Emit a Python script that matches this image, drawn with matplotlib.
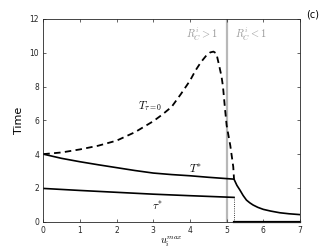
import matplotlib
matplotlib.use("Agg")
import matplotlib.pyplot as plt

plt.rcParams['mathtext.fontset'] = 'cm'

# T_{tau=0} (dashed)
x_dash = [0, 0.5, 1, 1.5, 2, 2.5, 3, 3.25, 3.5, 3.75, 4, 4.15, 4.3, 4.45, 4.55, 4.64, 4.72,
          4.8, 4.86, 4.9, 4.95, 5.0, 5.1, 5.18, 5.2]
y_dash = [4.0, 4.1, 4.28, 4.5, 4.8, 5.3, 5.95, 6.35, 6.8, 7.55, 8.35, 8.95, 9.45, 9.85, 10.02,
          10.07, 9.96, 9.2, 8.6, 8.0, 6.8, 5.7, 4.5, 3.25, 2.55]

# T* (solid)
x_tstar = [0, 0.5, 1, 1.5, 2, 2.5, 3, 3.5, 4, 4.5, 5.2]
y_tstar = [4.0, 3.75, 3.55, 3.37, 3.2, 3.03, 2.88, 2.79, 2.72, 2.63, 2.52]
x_tstar2 = [5.2, 5.28, 5.36, 5.45, 5.54, 5.63, 5.72, 5.85, 6.0, 6.2, 6.45, 6.7, 7.0]
y_tstar2 = [2.52, 2.15, 1.88, 1.55, 1.28, 1.12, 0.99, 0.85, 0.73, 0.63, 0.53, 0.47, 0.42]

# tau*
x_tau = [0, 1, 2, 3, 4, 5.2]
y_tau = [1.97, 1.85, 1.74, 1.63, 1.54, 1.44]
x_tau0 = [5.2, 7.0]
y_tau0 = [0, 0]

x_switch = 5.0
x_cut = 5.2

fig = plt.figure(figsize=(3.32, 2.49), dpi=100)
ax = fig.add_axes([0.1304, 0.1096, 0.7732, 0.8141])

ax.axvline(x_switch, color=(0.72, 0.72, 0.72), lw=1.6, zorder=1)
ax.plot(x_dash, y_dash, color='k', lw=1.3, dashes=(3.6, 2.4))
ax.plot(x_tstar, y_tstar, color='k', lw=1.2)
ax.plot(x_tstar2, y_tstar2, color='k', lw=1.2)
ax.plot(x_tau, y_tau, color='k', lw=1.2)
ax.plot(x_tau0, y_tau0, color='k', lw=1.6, clip_on=False)
ax.plot([x_cut, x_cut], [0, y_tau[-1]], color='k', lw=0.6, ls=':')

ax.text(2.9, 6.85, r'$T_{\tau=0}$', fontsize=8, ha='center', va='center')
ax.text(4.15, 3.15, r'$T^{*}$', fontsize=8, ha='center', va='center')
ax.text(3.1, 0.95, r'$\tau^{*}$', fontsize=8, ha='center', va='center')
ax.text(4.33, 11.1, r'$R_C^i>1$', fontsize=7.5, ha='center', va='center', color=(0.6, 0.6, 0.6))
ax.text(5.66, 11.1, r'$R_C^i<1$', fontsize=7.5, ha='center', va='center', color=(0.6, 0.6, 0.6))

ax.set_xlim(0, 7)
ax.set_ylim(0, 12)
ax.set_xticks(range(0, 8))
ax.set_yticks(range(0, 13, 2))
ax.tick_params(direction='in', top=True, right=True, labelsize=5.5, length=2.5,
               width=0.5, colors=(0.15, 0.15, 0.15), pad=3)
for s in ax.spines.values():
    s.set_linewidth(0.6)
    s.set_color((0.15, 0.15, 0.15))

ax.set_ylabel('Time', fontsize=8, labelpad=4)
ax.set_xlabel(r'$u_i^{max}$', fontsize=7.5)
ax.xaxis.set_label_coords(0.5, -0.065, transform=ax.transAxes)
ax.xaxis.label.set_va('top')
fig.text(0.943, 0.94, '(c)', fontsize=7, ha='center', va='center')

fig.savefig('out.png', dpi=100)
